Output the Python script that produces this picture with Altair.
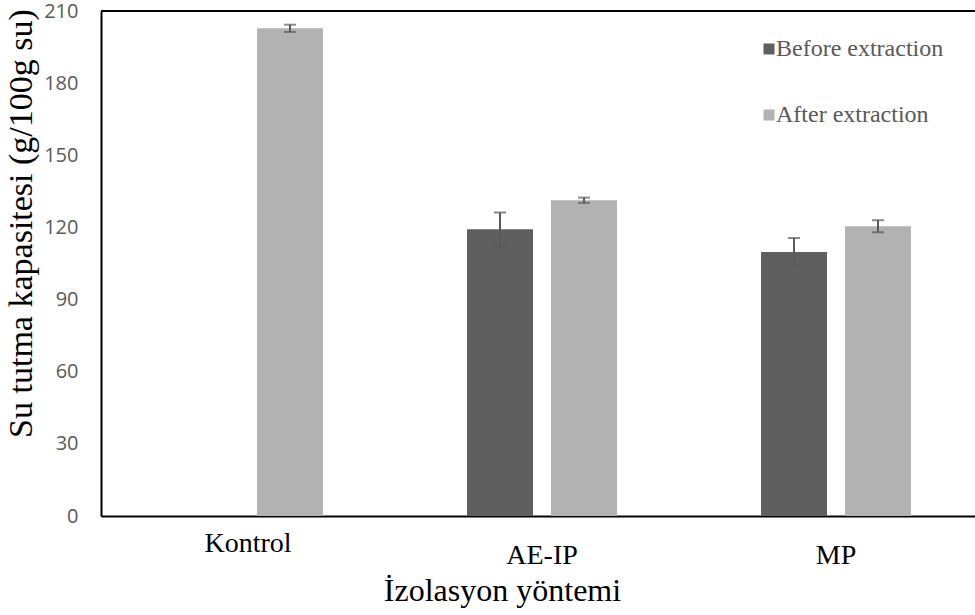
import altair as alt
import pandas as pd

# Water holding capacity by isolation method, before / after extraction
methods = ["Kontrol", "AE-IP", "AE-IP", "MP", "MP"]
stages = ["After extraction", "Before extraction", "After extraction",
          "Before extraction", "After extraction"]
means = [202.8, 119.2, 131.3, 109.8, 120.5]
errors = [1.5, 7.0, 1.1, 5.8, 2.5]

method_order = ["Kontrol", "AE-IP", "MP"]
stage_order = ["Before extraction", "After extraction"]
stage_colors = ["#5f5f5f", "#b2b2b2"]
y_ticks = [0, 30, 60, 90, 120, 150, 180, 210]

df = pd.DataFrame({
    "method": methods,
    "stage": stages,
    "mean": means,
    "err": errors,
})
df["lo"] = df["mean"] - df["err"]
df["hi"] = df["mean"] + df["err"]

serif = "Liberation Serif"
sans = "Open Sans"

x_enc = alt.X(
    "method:N",
    sort=method_order,
    scale=alt.Scale(range=[0, 882], paddingInner=0.49, paddingOuter=0.245),
    axis=alt.Axis(
        title="İzolasyon yöntemi",
        titleFont=serif, titleFontSize=32, titleFontWeight="normal",
        titleColor="black", titleX=401, titleY=84,
        titleBaseline="alphabetic", titleAlign="center",
        labelFont=serif, labelFontSize=28, labelColor="black",
        labelAngle=0, labelBaseline="top",
        labelPadding=alt.condition("datum.value == 'Kontrol'",
                                   alt.value(13), alt.value(25)),
        ticks=False, tickSize=0,
        domainColor="black", domainWidth=2,
    ),
)
xoff_enc = alt.XOffset(
    "stage:N",
    sort=stage_order,
    scale=alt.Scale(domain=stage_order, paddingInner=0.214, paddingOuter=0),
)
y_scale = alt.Scale(domain=[0, 210], nice=False, zero=True)

bars = alt.Chart(df).mark_bar().encode(
    x=x_enc,
    xOffset=xoff_enc,
    y=alt.Y(
        "mean:Q",
        scale=y_scale,
        axis=alt.Axis(
            values=y_ticks,
            title="Su tutma kapasitesi (g/100g su)",
            titleFont=serif, titleFontSize=34, titleFontWeight="normal",
            titleColor="black", titleX=-70, titleY=212,
            titleBaseline="alphabetic", titleAlign="center", titleAngle=-90,
            labelFont=sans, labelFontSize=20, labelColor="#595959",
            labelPadding=23, ticks=False, tickSize=0, grid=False,
            domainColor="black", domainWidth=2,
        ),
    ),
    color=alt.Color(
        "stage:N",
        scale=alt.Scale(domain=stage_order, range=stage_colors),
        legend=alt.Legend(
            title=None, orient="none", legendX=656, legendY=26,
            direction="vertical", symbolType="square", symbolSize=121,
            symbolStrokeWidth=0, labelFont=serif, labelFontSize=24,
            labelColor="#595959", labelOffset={"expr": "-5"}, labelLimit=0,
            rowPadding=42, padding=0,
        ),
    ),
)

err_rule = alt.Chart(df).mark_rule(color="#595959", strokeWidth=2).encode(
    x=alt.X("method:N", sort=method_order),
    xOffset=alt.XOffset("stage:N", sort=stage_order),
    y=alt.Y("lo:Q", scale=y_scale),
    y2="hi:Q",
)
cap_lo = alt.Chart(df).mark_tick(color="#595959", thickness=2, size=12).encode(
    x=alt.X("method:N", sort=method_order),
    xOffset=alt.XOffset("stage:N", sort=stage_order),
    y=alt.Y("lo:Q", scale=y_scale),
)
cap_hi = alt.Chart(df).mark_tick(color="#595959", thickness=2, size=12).encode(
    x=alt.X("method:N", sort=method_order),
    xOffset=alt.XOffset("stage:N", sort=stage_order),
    y=alt.Y("hi:Q", scale=y_scale),
)

# top edge of the plot frame
frame_top = alt.Chart(pd.DataFrame({"k": [0]})).mark_rule(
    color="black", strokeWidth=2
).encode(x=alt.value(0), x2=alt.value(882), y=alt.value(0))

chart = (
    alt.layer(bars, err_rule, cap_lo, cap_hi, frame_top)
    .properties(
        width=874, height=505,
        autosize=alt.AutoSizeParams(type="none"),
        padding={"left": 101, "top": 11, "right": 0, "bottom": 99},
        background="white",
    )
    .configure_view(stroke=None)
)

chart.save("out.html", embed_options={"renderer": "svg", "actions": False})
